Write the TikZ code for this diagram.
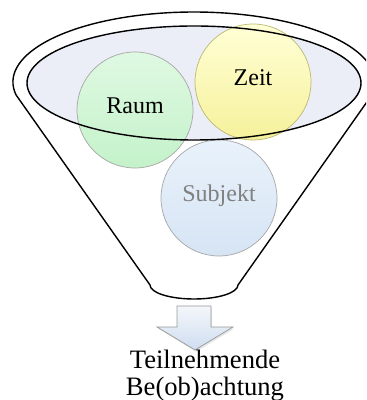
\documentclass[tikz,border=0pt]{standalone}
\usepackage{fontspec}
\setmainfont{Liberation Serif}
\usetikzlibrary{positioning}
\usetikzlibrary{shadows}

\definecolor{rimfill}{HTML}{EBEEF7}
\definecolor{raumtop}{HTML}{DFF9E2}
\definecolor{raumbot}{HTML}{C4F2CA}
\definecolor{zeittop}{HTML}{FFFFD6}
\definecolor{zeitbot}{HTML}{F6F19C}
\definecolor{subjtop}{HTML}{E9F2FB}
\definecolor{subjbot}{HTML}{D6E4F4}
\definecolor{arrowtop}{HTML}{F4F7FB}
\definecolor{arrowblue}{HTML}{CFDDF0}

\tikzset{
    bubble/.style={
        circle, minimum size=3.48cm, inner sep=0pt,
        draw=gray!70, line width=0.6pt,
        font=\fontsize{20.5}{24}\selectfont,
        text height=0.66em, text depth=0pt,
    },
    rimline/.style={draw=black, line width=1.2pt},
}

\begin{document}
\begin{tikzpicture}[x=0.03cm, y=0.03cm]
        \useasboundingbox (0,0) rectangle (366,400);
        \clip (0,0) rectangle (366,400);

        % opening of the funnel
        \coordinate (rim) at (194,317);
        \fill[rimfill] (rim) ellipse [x radius=167, y radius=57];

        \node (raum) at (135,290) [
            bubble,
            top color=raumtop, bottom color=raumbot,
        ] {Raum};
        \node (zeit) at (253,318) [
            bubble, draw=gray!60!yellow,
            top color=zeittop, bottom color=zeitbot,
        ] {Zeit};
        \node (subjekt) at (219,202) [
            bubble, text=gray,
            top color=subjtop, bottom color=subjbot,
        ] {Subjekt};

        \draw[rimline] (rim) ellipse [x radius=167, y radius=57];

        % funnel body
        \coordinate (rimleft) at (16.1,305);
        \coordinate (spoutright) at (238,115);
        \draw[rimline, line join=round] (rimleft)
            arc [start angle=190.7, end angle=-10.7, x radius=181, y radius=70]
            -- (spoutright)
            arc [start angle=0, end angle=-180, x radius=44, y radius=14]
            -- cycle;

        % down arrow
        \draw[draw=gray!80, line width=0.6pt, top color=arrowtop, bottom color=arrowblue,
            drop shadow={opacity=0.2, shadow xshift=1pt, shadow yshift=-1.5pt}]
            (177,94) -- (211,94) -- (211,73) -- (233,73)
            -- (195,50) -- (157,73) -- (177,73) -- cycle;

        \node (result) at (205,24.7) [
            align=center, inner sep=0pt,
            font=\fontsize{22.7}{23}\selectfont,
        ] {Teilnehmende\\Be(ob)achtung};
\end{tikzpicture}
\end{document}
